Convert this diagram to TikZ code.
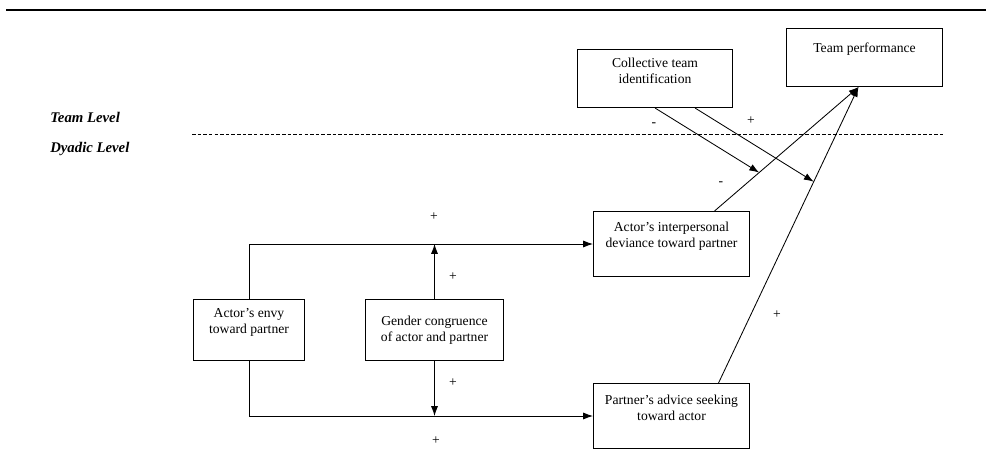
\documentclass[tikz,border=0pt]{standalone}
\usepackage{fontspec}
\setmainfont{Liberation Serif}
\usetikzlibrary{arrows.meta, calc}

\tikzset{
  box/.style={draw, line width=0.7pt, inner sep=0pt, anchor=north west},
  link/.style={line width=0.6pt},
  arr/.style={link, -{Latex[length=7pt, width=5pt]}},
  sign/.style={inner sep=0pt},
  level/.style={anchor=west, inner sep=0pt, font=\fontsize{10.5}{12}\selectfont\bfseries\itshape},
}
\newcommand{\boxtext}[4][\baselineskip]{\parbox[c][#3][c]{#2}{\centering #4\par\vspace{#1}}}

\begin{document}
\begin{tikzpicture}[x=0.025cm, y=-0.025cm, font=\fontsize{9.7}{11.4}\selectfont]
\useasboundingbox (0,0) rectangle (986,466);

\draw[line width=1.6pt] (6,10) -- (986,10);

\node[level] (TL) at (50,117) {Team Level};
\node[level] (DL) at (50,149) {Dyadic Level};
\draw[dash pattern=on 2.5pt off 1.5pt, line width=0.4pt] (192,134) -- (943,134);

\node[box] (CTI) at (577,49)  {\boxtext{3.875cm}{1.45cm}{Collective team\\identification}};
\node[box] (TP)  at (786,28)  {\boxtext{3.9cm}{1.45cm}{Team performance}};
\node[box] (ENV) at (193,299) {\boxtext{2.775cm}{1.525cm}{Actor’s envy\\toward partner}};
\node[box] (GC)  at (365,299) {\boxtext[0pt]{3.45cm}{1.525cm}{Gender congruence\\of actor and partner}};
\node[box] (DEV) at (593,211) {\boxtext{3.9cm}{1.625cm}{Actor’s interpersonal\\deviance toward partner}};
\node[box] (ADV) at (593,383) {\boxtext{3.9cm}{1.625cm}{Partner’s advice seeking\\toward actor}};

% envy paths, moderated by gender
\draw[arr] (ENV.north) |- (DEV.west);
\draw[arr] (ENV.south) |- (ADV.west);
\draw[arr] (GC.north) -- (GC.north |- DEV.west);
\draw[arr] (GC.south) -- (GC.south |- ADV.west);

% paths to team performance
\coordinate (tip) at ([xshift=-0.15cm]TP.south);
\coordinate (d0) at ([xshift=1.075cm]DEV.north);
\coordinate (a0) at ([xshift=1.175cm]ADV.north);
\draw[arr] (d0) -- (tip);
\draw[arr] (a0) -- (tip);

% cross-level moderation
\coordinate (m1) at ($(d0)!0.31!(tip)$);
\coordinate (m2) at ($(a0)!0.68!(tip)$);
\draw[arr] (CTI.south) -- (m1);
\draw[arr] ([xshift=1cm]CTI.south) -- (m2);

\node[sign] (s1) at (654,125) {-};
\node[sign] (s2) at (751,121) {+};
\node[sign] (s3) at (721,184) {-};
\node[sign] (s4) at (777,315) {+};
\node[sign] (s5) at (434,217) {+};
\node[sign] (s6) at (453,277) {+};
\node[sign] (s7) at (453,383) {+};
\node[sign] (s8) at (436,441) {+};
\end{tikzpicture}
\end{document}
